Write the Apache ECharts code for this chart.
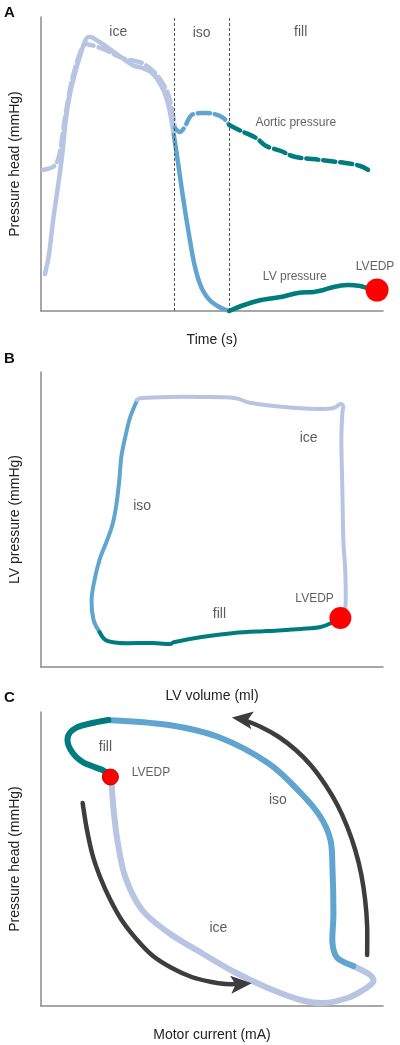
<!DOCTYPE html>
<html>
<head>
<meta charset="utf-8">
<script src="https://cdn.jsdelivr.net/npm/echarts@6/dist/echarts.min.js"></script>
<style>
html,body{margin:0;padding:0;background:#fff;}
#chart{width:400px;height:1045px;}
</style>
</head>
<body>
<div id="chart"></div>
<script>
// ---------- Panel A: pressure vs time (arbitrary units) ----------
const aLvIce = [[4,37],[8,56],[12,89],[17,124],[21,153],[25,191],[29,216],[33,233],[39,254],[45,271],[50,274],[59,269],[75,258],[92,246],[102,243],[112,238],[122,224],[129,204],[134,176]];
const aLvIso = [[134,176],[138,150],[142,122],[146,96],[150,72],[154,50],[158,34],[163,21],[170,11],[178,5],[184,2],[190,0]];
const aLvFill = [[190,0],[202,5],[222,11],[242,14],[259,18],[275,19],[285,21],[295,24],[309,26],[322,25],[329,23],[339,21]];
const aAoIce = [[2,141],[12,144],[17,151],[20,164],[25,198],[32,234],[42,264],[50,266],[65,261],[82,253],[102,248],[115,238],[125,224],[130,211],[134,191],[135,183]];
const aAoIso = [[135,183],[140,179],[145,184],[152,196],[165,198],[175,197],[184,193],[190,186]];
const aAoFill = [[190,186],[202,180],[217,173],[227,165],[242,160],[257,154],[282,151],[307,148],[322,145],[332,140]];
const aPhaseBounds = [134,190];
const aEdp = [339,21];
const aLabels = [['ice',78,279],['iso',162,278],['fill',262,279]];
const aNotes = [['Aortic pressure',257,188],['LV pressure',256,34],['LVEDP',337,44]];

// ---------- Panel B: LV pressure vs LV volume ----------
const bIso = [[97,267],[90,250],[85,230],[81,210],[79,187],[76,162],[72,142],[66,125],[59,107],[54,87],[51,67],[53,47],[59,35]];
const bFill = [[59,35],[65,27],[79,24],[112,24],[130,23],[135,25],[162,30],[195,34],[229,36],[262,38],[282,40],[295,45],[302,49]];
const bIce = [[302,49],[307,60],[307,94],[305,127],[304,177],[303,227],[304,254],[305,260],[302,263],[295,259],[279,258],[245,260],[212,264],[195,269],[162,270],[129,270],[102,269],[97,267]];
const bEdp = [302,49];
const bLabels = [['ice',270,229],['iso',102,161],['fill',180,53]];
const bNotes = [['LVEDP',276,68]];

// ---------- Panel C: pressure head vs motor current ----------
const cFill = [[70,230],[62,236],[42,244],[30,256],[27,269],[35,278],[52,283],[68,286]];
const cIso = [[68,286],[129,281],[179,269],[229,243],[262,213],[282,189],[292,166],[294,139],[295,93],[294,63],[299,48],[315,40]];
const cIce = [[315,40],[332,31],[335,24],[325,16],[309,8],[285,3],[262,6],[229,18],[195,34],[162,53],[129,73],[102,96],[85,129],[77,166],[73,199],[71,226]];
const cEdp = [70,229];
const cArrowDown = [[42,203],[46,178],[52,151],[60,128],[70,106],[82,85],[97,66],[113,50],[132,38],[152,29],[172,24],[186,22],[199,22]];
const cArrowUp = [[329,51],[329,80],[327,106],[323,132],[317,156],[309,179],[299,201],[287,221],[272,241],[257,256],[240,269],[222,279],[205,286]];
const cHeads = [[202,22,4],[203,287,172]];
const cLabels = [['fill',65,259],['iso',239,206],['ice',179,78]];
const cNotes = [['LVEDP',111,233]];

const xNames = ['Time (s)','LV volume (ml)','Motor current (mA)'];
const yNames = ['Pressure head (mmHg)','LV pressure (mmHg)','Pressure head (mmHg)'];
const panelLetters = ['A','B','C'];

const FONT = 'Liberation Sans, Arial, sans-serif';
const LIGHT = '#b7c5e2', MID = '#5fa5d0', TEAL = '#007b7e', RED = '#ff0000', ARROW = '#3d3d3d';

const grids = [
  {left:38, top:17, width:345, height:294},
  {left:38, top:372, width:345, height:295},
  {left:38, top:712, width:345, height:294}
];
const xAxes = grids.map((g,i)=>({
  type:'value', gridIndex:i, min:0, max:g.width,
  axisLine:{show:true, onZero:false, lineStyle:{color:'#8a8a8a', width:1.5}},
  axisTick:{show:false}, axisLabel:{show:false}, splitLine:{show:false},
  name:xNames[i], nameLocation:'middle', nameGap:22,
  nameTextStyle:{fontSize:14, color:'#222', fontFamily:FONT}
}));
const yAxes = grids.map((g,i)=>({
  type:'value', gridIndex:i, min:0, max:g.height,
  axisLine:{show:true, onZero:false, lineStyle:{color:'#8a8a8a', width:1.5}},
  axisTick:{show:false}, axisLabel:{show:false}, splitLine:{show:false},
  name:yNames[i], nameLocation:'middle', nameGap:19,
  nameTextStyle:{fontSize:14, color:'#222', fontFamily:FONT}
}));

// Smooth curve through data points (Catmull-Rom -> cubic Bezier), positioned via the axes (api.coord)
function spline(g, data, color, width, dash, z){
  return {
    type:'custom', xAxisIndex:g, yAxisIndex:g, silent:true, z:z||3,
    data:[data[0]],
    renderItem:function(params, api){
      const p = data.map(d=>api.coord(d));
      let d = 'M' + p[0][0] + ' ' + p[0][1];
      for (let i=0;i<p.length-1;i++){
        const p0 = p[Math.max(i-1,0)], p1 = p[i], p2 = p[i+1], p3 = p[Math.min(i+2,p.length-1)];
        const c1x = p1[0] + (p2[0]-p0[0])/6, c1y = p1[1] + (p2[1]-p0[1])/6;
        const c2x = p2[0] - (p3[0]-p1[0])/6, c2y = p2[1] - (p3[1]-p1[1])/6;
        d += ' C' + c1x + ' ' + c1y + ' ' + c2x + ' ' + c2y + ' ' + p2[0] + ' ' + p2[1];
      }
      return {
        type:'path', shape:{pathData:d},
        style:{fill:null, stroke:color, lineWidth:width, lineCap:'round', lineJoin:'round', lineDash:dash||null}
      };
    }
  };
}
function labels(g, arr, size, color){
  return {
    type:'scatter', xAxisIndex:g, yAxisIndex:g, symbolSize:0, z:10, silent:true,
    data:arr.map(a=>({name:a[0], value:[a[1],a[2]]})),
    label:{show:true, position:'inside', formatter:'{b}', fontSize:size, color:color, fontFamily:FONT}
  };
}
function dot(g, p, size, border){
  return {
    type:'scatter', xAxisIndex:g, yAxisIndex:g, data:[p], symbolSize:size, z:8, silent:true,
    itemStyle:{color:RED, opacity:1, borderColor:border||RED, borderWidth:border?1:0}
  };
}

const series = [
  // Panel A
  spline(0, aAoIce, LIGHT, 4.5, [12,5]),
  spline(0, aLvIce, LIGHT, 4.5),
  spline(0, aAoIso, MID, 4.5, [12,5]),
  spline(0, aLvIso, MID, 4.5),
  spline(0, aAoFill, TEAL, 4.5, [12,5]),
  spline(0, aLvFill, TEAL, 4.5),
  {
    type:'line', xAxisIndex:0, yAxisIndex:0, data:[], silent:true,
    markLine:{silent:true, symbol:'none', label:{show:false},
      lineStyle:{color:'#555', width:1, type:[3,2]},
      data:aPhaseBounds.map(v=>({xAxis:v}))}
  },
  dot(0, aEdp, 23),
  labels(0, aLabels, 14, '#333'),
  labels(0, aNotes, 12, '#3a3a3a'),
  // Panel B
  spline(1, bIso, MID, 4),
  spline(1, bFill, TEAL, 4),
  spline(1, bIce, LIGHT, 4),
  dot(1, bEdp, 22),
  labels(1, bLabels, 14, '#333'),
  labels(1, bNotes, 12, '#3a3a3a'),
  // Panel C
  spline(2, cIce, LIGHT, 6),
  spline(2, cIso, MID, 6),
  spline(2, cFill, TEAL, 6),
  spline(2, cArrowDown, ARROW, 4.5),
  spline(2, cArrowUp, ARROW, 4.5),
  {
    type:'scatter', xAxisIndex:2, yAxisIndex:2, z:6, silent:true,
    symbol:'path://M0,0L22,9L0,18L5,9Z', symbolSize:[21,18], symbolKeepAspect:false,
    data:cHeads.map(h=>({value:[h[0],h[1]], symbolRotate:h[2]})),
    itemStyle:{color:ARROW, opacity:1}
  },
  dot(2, cEdp, 16, '#c00000'),
  labels(2, cLabels, 14, '#333'),
  labels(2, cNotes, 12, '#3a3a3a')
];

const graphic = panelLetters.map((t,i)=>({
  type:'text', left:4, top:[5,351,690][i],
  style:{text:t, font:'bold 15px ' + FONT, fill:'#111'}
}));

const chart = echarts.init(document.getElementById('chart'), null, {renderer:'canvas'});
chart.setOption({
  animation:false,
  backgroundColor:'#fff',
  grid:grids,
  xAxis:xAxes,
  yAxis:yAxes,
  series:series,
  graphic:graphic
});
</script>
</body>
</html>
